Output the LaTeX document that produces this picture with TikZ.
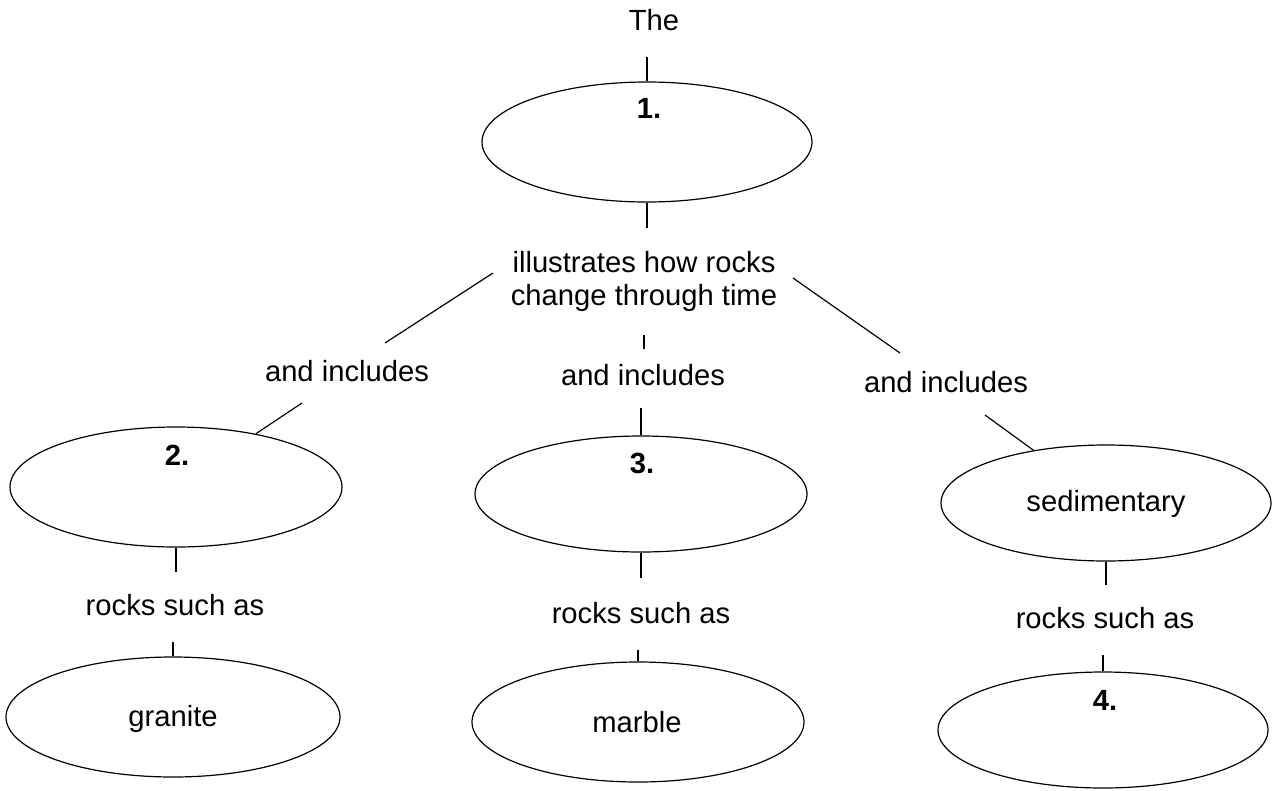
\documentclass[tikz,border=0pt]{standalone}
\usepackage{fontspec}
\setmainfont{Liberation Sans}
\usetikzlibrary{shapes.geometric}
\begin{document}
\begin{tikzpicture}[x=1pt,y=-1pt,
  conn/.style={line width=1.2pt, black},
  oval/.style={draw, line width=1.2pt, ellipse, inner sep=0pt},
  txt/.style={font=\fontsize{29.2}{33}\selectfont, inner sep=0pt, anchor=base},
  num/.style={font=\fontsize{29.2}{33}\selectfont\bfseries, inner sep=0pt, anchor=base}]
\useasboundingbox[fill=white] (0,0) rectangle (1274,790);

% ellipses
\node[oval, minimum width=330pt, minimum height=120pt] (e1) at (647,142) {};
\node[oval, minimum width=332pt, minimum height=120pt] (e2) at (176,487) {};
\node[oval, minimum width=332pt, minimum height=116pt] (e3) at (641,494) {};
\node[oval, minimum width=330pt, minimum height=116pt] (eS) at (1106,503) {};
\node[oval, minimum width=334pt, minimum height=120pt] (eG) at (173,717) {};
\node[oval, minimum width=332pt, minimum height=120pt] (eM) at (638,722) {};
\node[oval, minimum width=330pt, minimum height=116pt] (e4) at (1103,730) {};

% texts
\node[txt] (the) at (654,30) {The};
\node[num] (n1) at (649,118) {1.};
\node[num] (n2) at (177,465) {2.};
\node[num] (n3) at (642,473) {3.};
\node[num] (n4) at (1105,710) {4.};
\node[font=\fontsize{29.2}{33}\selectfont, inner sep=0pt, align=center] (ill) at (644,281)
  {illustrates how rocks\\change through time};
\node[txt] (incL) at (347,381) {and includes};
\node[txt] (incM) at (643,385) {and includes};
\node[txt] (incR) at (946,392) {and includes};
\node[txt] (rsL) at (175,615) {rocks such as};
\node[txt] (rsM) at (641,623) {rocks such as};
\node[txt] (rsR) at (1105,628) {rocks such as};
\node[txt] (gra) at (173,726) {granite};
\node[txt] (mar) at (637,732) {marble};
\node[txt] (sed) at (1106,511) {sedimentary};

% free connector ends
\coordinate (cThe) at (647,57);
\coordinate (cIllTop) at (647,228);
\coordinate (cLa) at (493,273);
\coordinate (cLb) at (385,343);
\coordinate (cRa) at (793,278);
\coordinate (cRb) at (900,353);
\coordinate (cMa) at (644,335);
\coordinate (cMb) at (644,349);
\coordinate (cIncL) at (302,403);
\coordinate (cIncM) at (641,408);
\coordinate (cIncR) at (985,415);
\coordinate (cRs2a) at (176,572);
\coordinate (cRs2b) at (173,642);
\coordinate (cRs3a) at (641,578);
\coordinate (cRs3b) at (638,650);
\coordinate (cRsSa) at (1106,585);
\coordinate (cRsSb) at (1103,655);

% connectors
\draw[conn] (cThe) -- (e1.north);
\draw[conn] (e1.south) -- (cIllTop);
\draw[conn] (cLa) -- (cLb);
\draw[conn] (cRa) -- (cRb);
\draw[conn] (cMa) -- (cMb);
\draw[conn] (cIncL) -- (e2);
\draw[conn] (cIncM) -- (e3.north);
\draw[conn] (cIncR) -- (eS);
\draw[conn] (e2.south) -- (cRs2a);
\draw[conn] (cRs2b) -- (eG.north);
\draw[conn] (e3.south) -- (cRs3a);
\draw[conn] (cRs3b) -- (eM.north);
\draw[conn] (eS.south) -- (cRsSa);
\draw[conn] (cRsSb) -- (e4.north);
\end{tikzpicture}
\end{document}
